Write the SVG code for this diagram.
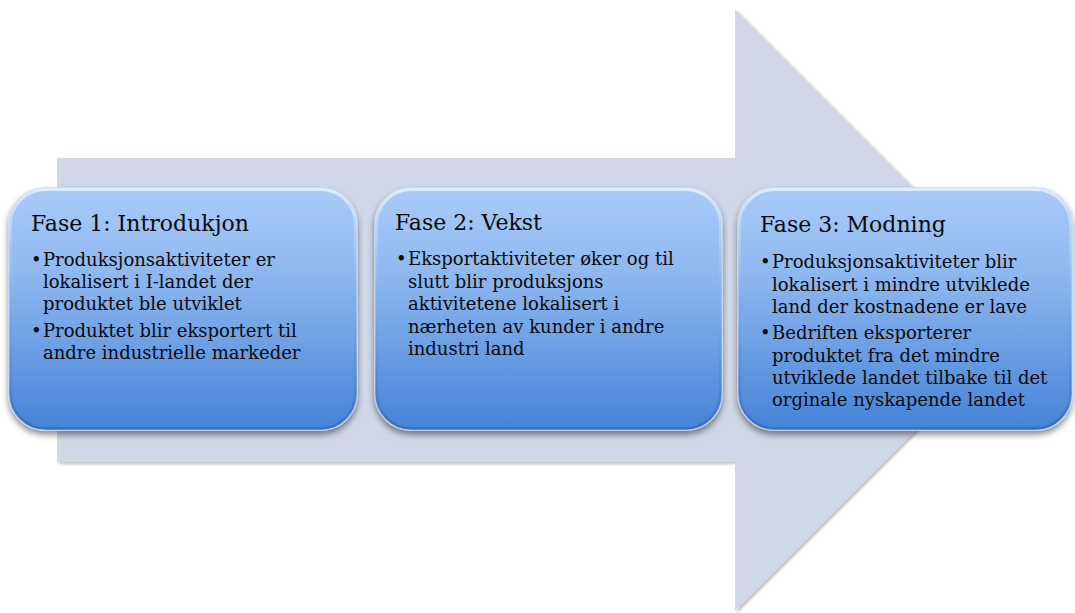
<svg xmlns="http://www.w3.org/2000/svg" width="1075" height="613" viewBox="0 0 1075 613">
  <style>
    .title { font-family: "DejaVu Serif", "Liberation Serif", serif; font-size: 22px; fill: #0a0a0a; }
    .body { font-family: "DejaVu Serif", "Liberation Serif", serif; font-size: 18px; fill: #0a0a0a; }
    .box { fill: url(#boxFill); stroke: #c8dcf5; stroke-width: 1.5; filter: url(#boxShadow); }
    .rim { fill: none; stroke: url(#rimFill); stroke-width: 3; }
  </style>
  <defs>
    <linearGradient id="boxFill" x1="0" y1="0" x2="0" y2="1">
      <stop offset="0" stop-color="#a9cbf8"/>
      <stop offset="0.35" stop-color="#8fb8f0"/>
      <stop offset="1" stop-color="#4583d6"/>
    </linearGradient>
    <linearGradient id="rimFill" x1="0" y1="0" x2="0" y2="1">
      <stop offset="0" stop-color="#e4f0ff" stop-opacity="0.9"/>
      <stop offset="0.5" stop-color="#7fa8e0" stop-opacity="0.4"/>
      <stop offset="1" stop-color="#2f63b0" stop-opacity="0.6"/>
    </linearGradient>
    <filter id="boxShadow" x="-10%" y="-10%" width="120%" height="130%">
      <feGaussianBlur in="SourceAlpha" stdDeviation="3"/>
      <feOffset dx="0" dy="4" result="b"/>
      <feFlood flood-color="#000" flood-opacity="0.45"/>
      <feComposite in2="b" operator="in"/>
      <feMerge>
        <feMergeNode/>
        <feMergeNode in="SourceGraphic"/>
      </feMerge>
    </filter>
    <filter id="arrowShadow" x="-5%" y="-5%" width="110%" height="110%">
      <feGaussianBlur in="SourceAlpha" stdDeviation="1.5"/>
      <feOffset dx="1.5" dy="1.5" result="b"/>
      <feFlood flood-color="#000" flood-opacity="0.25"/>
      <feComposite in2="b" operator="in"/>
      <feMerge>
        <feMergeNode/>
        <feMergeNode in="SourceGraphic"/>
      </feMerge>
    </filter>
  </defs>

  <rect width="1075" height="613" fill="#ffffff"/>

  <!-- background process arrow -->
  <g id="arrow">
    <path d="M57 158 H735 V9 L1036 310 L735 611 V462 H57 Z" fill="#d0d7e6" filter="url(#arrowShadow)"/>
  </g>

  <!-- phase 1 -->
  <g id="phase1">
    <rect class="box" x="9" y="188" width="348" height="242" rx="36"/>
    <rect class="rim" x="10.5" y="189.5" width="345" height="239" rx="35"/>
    <text class="title" x="31" y="231">Fase 1: Introdukjon</text>
    <text class="body">
      <tspan x="31" y="266">•</tspan><tspan x="43" y="266">Produksjonsaktiviteter er</tspan>
      <tspan x="43" y="288">lokalisert i I-landet der</tspan>
      <tspan x="43" y="310">produktet ble utviklet</tspan>
      <tspan x="31" y="337">•</tspan><tspan x="43" y="337">Produktet blir eksportert til</tspan>
      <tspan x="43" y="359">andre industrielle markeder</tspan>
    </text>
  </g>

  <!-- phase 2 -->
  <g id="phase2">
    <rect class="box" x="375" y="188" width="347" height="242" rx="36"/>
    <rect class="rim" x="376.5" y="189.5" width="344" height="239" rx="35"/>
    <text class="title" x="395" y="230">Fase 2: Vekst</text>
    <text class="body">
      <tspan x="396" y="265">•</tspan><tspan x="408" y="265">Eksportaktiviteter øker og til</tspan>
      <tspan x="408" y="288">slutt blir produksjons</tspan>
      <tspan x="408" y="310">aktivitetene lokalisert i</tspan>
      <tspan x="408" y="333">nærheten av kunder i andre</tspan>
      <tspan x="408" y="355">industri land</tspan>
    </text>
  </g>

  <!-- phase 3 -->
  <g id="phase3">
    <rect class="box" x="738" y="188" width="334" height="242" rx="36"/>
    <rect class="rim" x="739.5" y="189.5" width="331" height="239" rx="35"/>
    <text class="title" x="760" y="232">Fase 3: Modning</text>
    <text class="body">
      <tspan x="760" y="268">•</tspan><tspan x="772" y="268">Produksjonsaktiviteter blir</tspan>
      <tspan x="772" y="291">lokalisert i mindre utviklede</tspan>
      <tspan x="772" y="313">land der kostnadene er lave</tspan>
      <tspan x="760" y="339">•</tspan><tspan x="772" y="339">Bedriften eksporterer</tspan>
      <tspan x="772" y="362">produktet fra det mindre</tspan>
      <tspan x="772" y="384">utviklede landet tilbake til det</tspan>
      <tspan x="772" y="406">orginale nyskapende landet</tspan>
    </text>
  </g>
</svg>
